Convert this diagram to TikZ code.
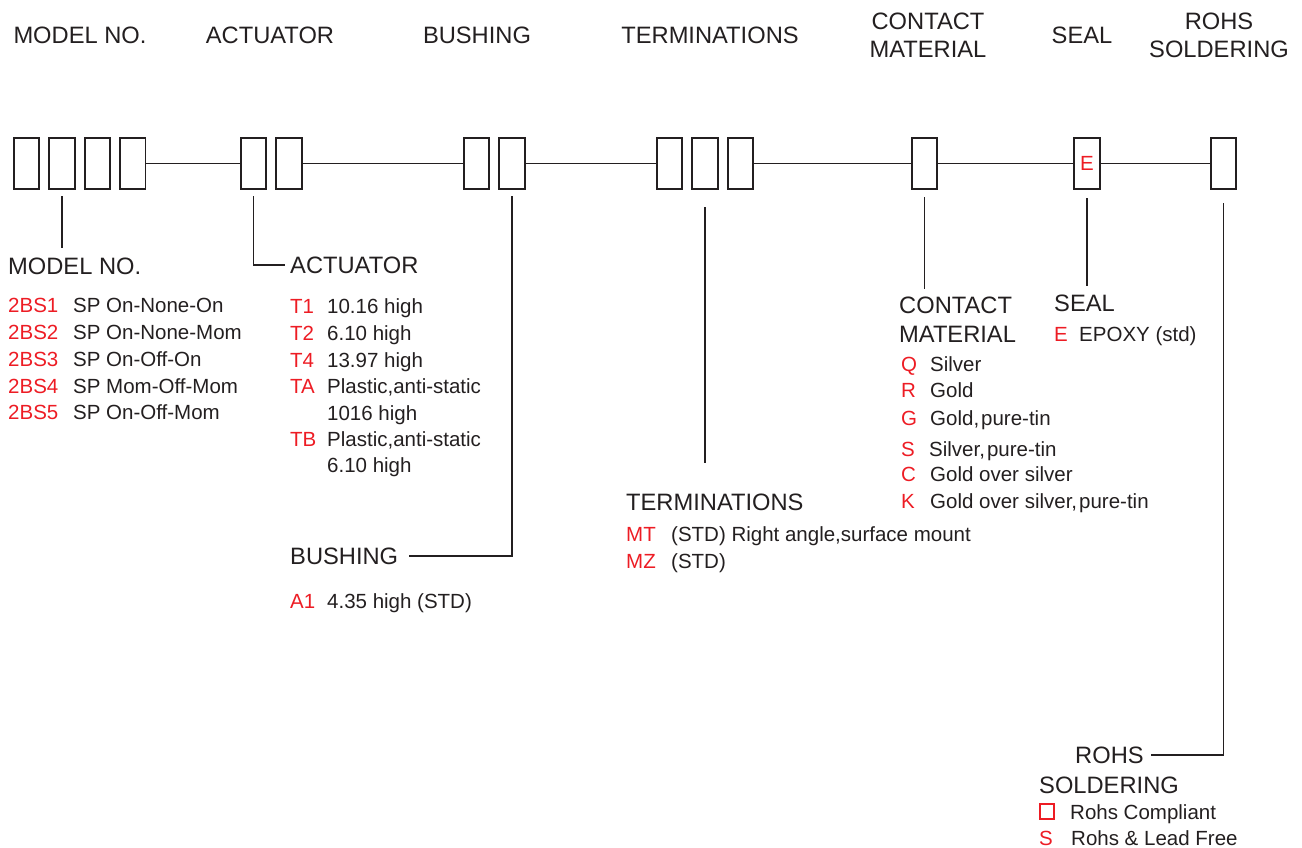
\documentclass[tikz,border=0pt]{standalone}
\usepackage{fontspec}
\setmainfont{Liberation Sans}
\usetikzlibrary{positioning}
\definecolor{tinta}{HTML}{231F20}
\definecolor{rojo}{HTML}{ED1C24}

\begin{document}
\begin{tikzpicture}[x=1pt,y=-1pt,
  casilla/.style={draw=tinta,line width=1.9pt,minimum width=25.5pt,minimum height=51.5pt,inner sep=0pt},
  cabecera/.style={font=\fontsize{23.7}{28}\selectfont,text=tinta,inner sep=0pt,anchor=north,align=center},
  titulo/.style={font=\fontsize{23.7}{29}\selectfont,text=tinta,inner sep=0pt,anchor=base west},
  item/.style={font=\fontsize{20.5}{26}\selectfont,text=tinta,inner sep=0pt,anchor=base west},
  codigo/.style={item,text=rojo},
  linea/.style={draw=tinta,line width=1.8pt}]
\useasboundingbox (0,0) rectangle (1302,848);

% cabeceras
\node (h1) at (80,27) [cabecera] {MODEL NO.};
\node (h2) at (270,27) [cabecera] {ACTUATOR};
\node (h3) at (477,27) [cabecera] {BUSHING};
\node (h4) at (710,27) [cabecera] {TERMINATIONS};
\node (h5) at (928,13) [cabecera] {CONTACT\\MATERIAL};
\node (h6) at (1082,27) [cabecera] {SEAL};
\node (h7) at (1219,13) [cabecera] {ROHS\\SOLDERING};

% casillas
\node (m1) at (26.5,163.5) [casilla] {};
\node (m2) [casilla,right=8pt of m1] {};
\node (m3) [casilla,right=8pt of m2] {};
\node (m4) [casilla,right=8pt of m3] {};
\node (a1) at (253.5,163.5) [casilla] {};
\node (a2) [casilla,right=8pt of a1] {};
\node (s1) at (476.5,163.5) [casilla] {};
\node (s2) [casilla,right=8pt of s1] {};
\node (t1) at (669.5,163.5) [casilla] {};
\node (t2) [casilla,right=8pt of t1] {};
\node (t3) [casilla,right=8pt of t2] {};
\node (k1) at (924.5,163.5) [casilla] {};
\node (e1) at (1087,163.5) [casilla,text=rojo,font=\fontsize{20.5}{24}\selectfont] {E};
\node (r1) at (1223.5,163.5) [casilla] {};

\path[linea]
(m4) edge (a1)
(a2) edge (s1)
(s2) edge (t1)
(t3) edge (k1)
(k1) edge (e1)
(e1) edge (r1);

% MODEL NO.
\node (tModel) at (8,274) [titulo] {MODEL NO.};
\node (mc1) at (8,312) [codigo] {2BS1};
\node (mc2) at (8,339) [codigo] {2BS2};
\node (mc3) at (8,366) [codigo] {2BS3};
\node (mc4) at (8,393) [codigo] {2BS4};
\node (mc5) at (8,419) [codigo] {2BS5};
\node (md1) at (73,312) [item] {SP On-None-On};
\node (md2) at (73,339) [item] {SP On-None-Mom};
\node (md3) at (73,366) [item] {SP On-Off-On};
\node (md4) at (73,393) [item] {SP Mom-Off-Mom};
\node (md5) at (73,419) [item] {SP On-Off-Mom};

% ACTUATOR
\node (tAct) at (290,273) [titulo] {ACTUATOR};
\node (ac1) at (290,313) [codigo] {T1};
\node (ac2) at (290,340) [codigo] {T2};
\node (ac3) at (290,367) [codigo] {T4};
\node (ac4) at (290,393) [codigo] {TA};
\node (ac5) at (290,446) [codigo] {TB};
\node (ad1) at (327,313) [item] {10.16 high};
\node (ad2) at (327,340) [item] {6.10 high};
\node (ad3) at (327,367) [item] {13.97 high};
\node (ad4) at (327,393) [item] {Plastic,anti-static};
\node (ad5) at (327,420) [item] {1016 high};
\node (ad6) at (327,446) [item] {Plastic,anti-static};
\node (ad7) at (327,472) [item] {6.10 high};

% BUSHING
\node (tBush) at (290,564) [titulo] {BUSHING};
\node (bc1) at (290,608) [codigo] {A1};
\node (bd1) at (327,608) [item] {4.35 high (STD)};

% TERMINATIONS
\node (tTerm) at (626,510) [titulo] {TERMINATIONS};
\node (tc1) at (626,541) [codigo] {MT};
\node (tc2) at (626,568) [codigo] {MZ};
\node (td1) at (671,541) [item] {(STD) Right angle,surface mount};
\node (td2) at (671,568) [item] {(STD)};

% CONTACT MATERIAL
\node (tCont) at (899,297) [titulo,anchor=north west,align=left] {CONTACT\\MATERIAL};
\node (kc1) at (901,371) [codigo] {Q};
\node (kc2) at (901,397) [codigo] {R};
\node (kc3) at (901,425) [codigo] {G};
\node (kc4) at (901,456) [codigo] {S};
\node (kc5) at (901,481) [codigo] {C};
\node (kc6) at (901,508) [codigo] {K};
\node (kd1) at (930,371) [item] {Silver};
\node (kd2) at (930,397) [item] {Gold};
\node (kd3) at (930,425) [item] {Gold,\kern2pt pure-tin};
\node (kd4) at (929,456) [item] {Silver,\kern2pt pure-tin};
\node (kd5) at (930,481) [item] {Gold over silver};
\node (kd6) at (930,508) [item] {Gold over silver,\kern2pt pure-tin};

% SEAL
\node (tSeal) at (1054,311) [titulo] {SEAL};
\node (ec1) at (1054,341) [codigo] {E};
\node (ed1) at (1079,341) [item] {EPOXY (std)};

% ROHS SOLDERING
\node (tRohs) at (1075,763) [titulo] {ROHS};
\node (tSold) at (1039,793) [titulo] {SOLDERING};
\node (rsq) at (1047,811.5) [draw=rojo,line width=1.8pt,minimum size=14.5pt,inner sep=0pt] {};
\node (rc2) at (1039,845) [codigo] {S};
\node (rd1) at (1070,819) [item] {Rohs Compliant};
\node (rd2) at (1071,845) [item] {Rohs \& Lead Free};

% lineas de llamada
\draw[linea,shorten <=6pt,shorten >=9pt] (m2.south) -- (tModel.north -| m2.south);
\draw[linea,shorten <=6pt,shorten >=5pt] (a1.south) |- (tAct.west);
\draw[linea,shorten <=6pt,shorten >=11pt] (s2.south) |- (tBush.east);
\draw[linea,shorten <=17pt,shorten >=30pt] (t2.south) -- (tTerm.north -| t2.south);
\draw[linea,shorten <=7pt,shorten >=8pt] (k1.south) -- (tCont.north -| k1.south);
\draw[linea,shorten <=8pt,shorten >=8pt] (e1.south) -- (tSeal.north -| e1.south);
\draw[linea,shorten <=13pt,shorten >=7pt] (r1.south) |- (tRohs.east);

\end{tikzpicture}
\end{document}
